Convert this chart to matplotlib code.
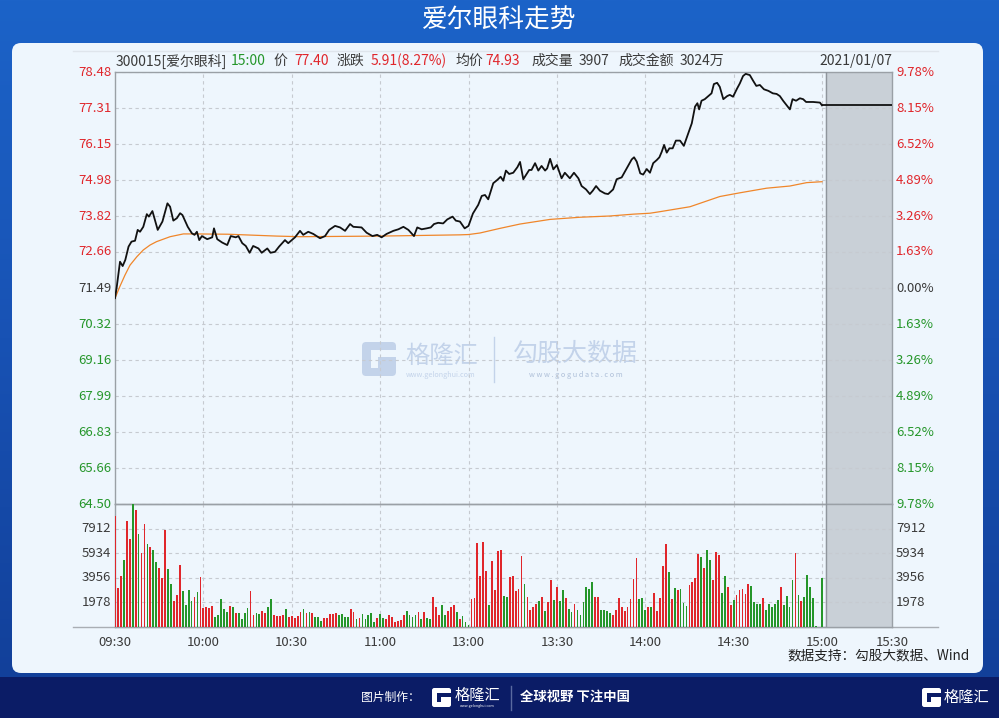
import matplotlib
matplotlib.use("Agg")
import matplotlib.pyplot as plt
import numpy as np
from matplotlib.colors import LinearSegmentedColormap
from matplotlib.patches import FancyBboxPatch, Rectangle

plt.rcParams["font.family"] = ["Noto Sans CJK SC", "DejaVu Sans"]

# ---- data ----
stock = "300015[爱尔眼科]"
trade_date = "2021/01/07"
last_time = "15:00"
prev_close = 71.49
close = 77.40
change = 5.91
change_pct = 8.27
avg_price = 74.93
last_vol = 3907
turnover = "3024万"

time_labels = ["09:30", "10:00", "10:30", "11:00", "13:00", "13:30", "14:00", "14:30", "15:00", "15:30"]
price_ticks = [78.48, 77.31, 76.15, 74.98, 73.82, 72.66, 71.49, 70.32, 69.16, 67.99, 66.83, 65.66, 64.50]
pct_labels = ["9.78%", "8.15%", "6.52%", "4.89%", "3.26%", "1.63%", "0.00%",
              "1.63%", "3.26%", "4.89%", "6.52%", "8.15%", "9.78%"]
vol_ticks = [1978, 3956, 5934, 7912]
vol_max = 9890

# minutes since 09:30 (lunch break removed) and price
price_t = [0, 0.6, 1.7, 2.6, 3.5, 4.6, 5.6, 6.8, 7.7, 8.5, 9.6, 10.8, 11.5, 12.7, 14.5, 16.1,
           17.8, 18.7, 19.8, 21.0, 22.1, 22.9, 24.7, 26.1, 27.0, 27.8, 28.6, 29.5, 31.3, 33.0,
           33.6, 34.7, 36.4, 38.1, 39.3, 41.0, 41.9, 43.2, 44.4, 45.7, 46.9, 48.7, 49.8, 51.7,
           52.8, 54.3, 55.7, 57.7, 58.8, 61.1, 62.8, 63.9, 65.6, 67.3, 69.6, 71.3, 72.7, 74.7,
           76.4, 78.1, 79.8, 80.9, 83.7, 85.4, 87.4, 89.0, 90.5, 92.2, 94.5, 96.2, 97.9, 99.6,
           101.5, 102.6, 104.1, 105.8, 107.2, 108.3, 109.7, 111.4, 112.8, 114.6, 115.7, 117.1,
           118.7, 120.0, 121.5, 123.3, 124.5, 125.6, 126.7, 128.4, 129.8, 130.9, 131.8, 132.7,
           133.8, 135.2, 136.6, 137.5, 138.6, 140.6, 141.4, 142.6, 143.7, 144.8, 146.0, 146.7,
           147.7, 148.8, 150.0, 151.6, 152.7, 154.4, 155.8, 157.3, 158.4, 159.9, 161.2, 162.2,
           163.3, 164.6, 166.3, 167.4, 169.1, 170.3, 172.0, 173.7, 175.4, 176.2, 177.1, 178.3,
           179.3, 180.5, 181.6, 182.7, 183.9, 184.8, 185.6, 186.4, 187.3, 188.2, 189.3, 190.4,
           191.8, 193.1, 194.3, 195.8, 196.9, 197.7, 198.3, 199.1, 200.2, 201.4, 202.5, 203.3,
           204.4, 205.3, 206.5, 207.8, 208.7, 209.8, 211.2, 212.1, 213.2, 214.1, 215.5, 216.6,
           217.7, 218.9, 220.3, 221.8, 223.3, 224.6, 225.7, 226.8, 228.2, 229.1, 230.0, 231.2,
           232.5, 233.6, 234.6, 237.0, 239.3, 240.0]
price = [71.16, 71.53, 72.34, 72.20, 72.40, 72.83, 72.99, 73.02, 73.37, 73.31, 73.47, 73.88, 73.80,
         73.98, 73.37, 73.64, 74.23, 74.12, 73.67, 73.75, 73.91, 73.85, 73.47, 73.26, 73.21, 73.31,
         73.04, 73.17, 73.07, 73.13, 73.42, 73.07, 72.96, 72.88, 73.17, 73.13, 73.17, 72.94, 72.85,
         72.63, 72.85, 72.77, 72.63, 72.77, 72.63, 72.66, 72.83, 73.04, 72.94, 73.13, 73.34, 73.21,
         73.31, 73.24, 73.10, 73.17, 73.37, 73.50, 73.45, 73.34, 73.56, 73.47, 73.45, 73.28, 73.17,
         73.21, 73.13, 73.24, 73.34, 73.39, 73.47, 73.37, 73.17, 73.45, 73.39, 73.42, 73.45, 73.56,
         73.60, 73.58, 73.71, 73.80, 73.67, 73.64, 73.42, 73.50, 73.90, 74.18, 74.47, 74.50, 74.36,
         74.88, 74.99, 75.09, 74.96, 75.29, 75.18, 75.22, 75.40, 75.57, 75.01, 75.31, 75.31, 75.53,
         75.29, 75.44, 75.29, 75.36, 75.67, 75.33, 75.47, 75.04, 75.22, 75.04, 75.22, 75.04, 74.79,
         74.68, 74.53, 74.64, 74.79, 74.64, 74.55, 74.53, 74.68, 75.01, 75.07, 75.36, 75.65, 75.72,
         75.58, 75.20, 75.16, 75.34, 75.22, 75.53, 75.63, 75.72, 75.90, 76.12, 75.87, 76.01, 76.01,
         76.26, 76.26, 76.09, 76.41, 76.82, 77.36, 77.47, 77.27, 77.55, 77.60, 77.70, 77.79, 78.09,
         78.13, 78.00, 77.60, 77.70, 77.74, 77.68, 77.95, 78.11, 78.35, 78.42, 78.38, 78.20, 78.03,
         78.06, 77.92, 77.87, 77.79, 77.77, 77.70, 77.55, 77.38, 77.27, 77.60, 77.55, 77.63, 77.60,
         77.51, 77.51, 77.49, 77.40]

avg_t = [0, 1.7, 3.4, 5.1, 7.4, 9.6, 11.9, 14.1, 18.7, 23.2, 27.0, 38.4, 54.9, 62.8, 90.0, 117.0,
         120.0, 123.9, 130.7, 137.5, 147.7, 157.9, 168.0, 176.0, 181.6, 185.0, 195.2, 205.3,
         212.1, 221.2, 229.1, 234.8, 240.0]
avg = [71.16, 71.55, 71.91, 72.23, 72.50, 72.72, 72.88, 72.99, 73.15, 73.24, 73.24, 73.23, 73.17,
       73.15, 73.17, 73.21, 73.22, 73.27, 73.42, 73.56, 73.71, 73.78, 73.82, 73.88, 73.91, 73.96,
       74.12, 74.45, 74.57, 74.72, 74.79, 74.90, 74.93]

# one bar per minute, 09:30 .. 15:00
vol = [8924, 3160, 4100, 5387, 8522, 7050, 9890, 9407, 7477, 5923, 8281, 6673, 6405, 6190, 5253,
       4716, 3913, 7799, 4637, 3430, 2117, 2573, 4958, 2921, 1769, 2975, 2117, 2385, 2787, 3993,
       1528, 1635, 1528, 1688, 830, 965, 2224, 1420, 1206, 1688, 1581, 1152, 1152, 616, 1152,
       1501, 2894, 938, 1099, 1018, 1286, 1099, 1635, 2278, 965, 884, 884, 965, 1420, 830,
       884, 697, 884, 1233, 1474, 1152, 1206, 1152, 830, 777, 509, 723, 723, 1045, 1045,
       1099, 938, 1045, 830, 777, 1447, 1206, 616, 750, 1045, 670, 938, 1099, 402, 697,
       1018, 723, 616, 965, 830, 429, 456, 563, 965, 1286, 938, 777, 965, 1206, 670,
       1206, 723, 670, 2385, 1581, 938, 1769, 938, 1313, 1635, 1742, 1233, 670, 884, 429,
       160, 2278, 2358, 6727, 4100, 6861, 4529, 1769, 5334, 2975, 6137, 6190, 2492, 2385, 3993,
       4100, 2921, 3028, 5708, 3457, 2385, 1367, 1581, 1849, 2090, 2385, 1286, 1983, 3752, 2144,
       3189, 2117, 2975, 2304, 1420, 1233, 1822, 1367, 965, 2010, 3216, 3028, 3618, 2438, 2438,
       1367, 1367, 1313, 1099, 965, 1367, 2304, 1635, 1313, 1635, 2251, 3832, 5548, 2224, 2331,
       1367, 1581, 1581, 2760, 1286, 2304, 4904, 6673, 4395, 2278, 3109, 2975, 3028, 1903, 1688,
       3350, 3645, 3966, 5869, 5655, 4716, 6190, 5387, 3806, 6029, 5789, 2706, 4127, 3216, 1769,
       2144, 2546, 2975, 3082, 2652, 3430, 3296, 2036, 1849, 1849, 2304, 1367, 1849, 1581, 1849,
       2144, 3216, 1769, 2492, 1635, 3779, 5923, 2546, 2090, 2385, 4154, 3189, 2304, 80, 0,
       3907]
# bar colour, r = up minute, g = down minute (10 per group)
vol_dir = "".join([
    "rrrgrrgrgr", "rgrggrrrgg", "rrrggggrgr", "rrrrgggggr", "grggggrrgg",
    "rrggrrrrgr", "rrrrgrgrgg", "grrrrrgggg", "rrgrgggggr", "ggrrrrrrrg",
    "gggrgrggrr", "rggrrrgrgg", "grrrrrrgrr", "rrggrrrrrg", "rrrrgrgrrg",
    "rggrggrggg", "gggrrggggr", "rrrrrrrrgg", "grgrrrrrgr", "grgggrrrrg",
    "rggrrrggrr", "grrrrrgggg", "rgggggrggg", "grgrgggggg", "g",
])

RED = "#e0262b"
GREEN = "#25962a"
DARK = "#3a3a3a"
GRID = "#c6cad0"
PANEL = "#eef6fd"

W, H = 999, 718
L, R, TOP, MID, BOT = 115, 892, 72, 504, 627
X_CLOSE = 822                        # pixel of 15:00
XMAX = 240 * (R - L) / (X_CLOSE - L)
X_SHADE = 240 * (826 - L) / (X_CLOSE - L)

fig = plt.figure(figsize=(W / 100, H / 100), dpi=100)

# background, panel, decorations in pixel coordinates
bg = fig.add_axes([0, 0, 1, 1])
bg.set_xlim(0, W)
bg.set_ylim(H, 0)
bg.axis("off")
cmap = LinearSegmentedColormap.from_list("bgblue", ["#1c63c8", "#1852b4", "#12409a"])
bg.imshow(np.linspace(0, 1, 256)[:, None], extent=[0, W, 677, 0], cmap=cmap, aspect="auto", zorder=0)
bg.add_patch(Rectangle((0, 677), W, H - 677, fc="#0b1c66", ec="none", zorder=0))
bg.add_patch(FancyBboxPatch((12, 43), 971, 630, boxstyle="round,pad=0,rounding_size=9",
                            fc=PANEL, ec="none", zorder=1))
bg.text(W / 2, 21, "爱尔眼科走势", color="white", fontsize=18.5, ha="center", va="center", zorder=2)

bg.plot([73, 938], [51, 51], color="#dfe5ec", lw=1, zorder=2)
bg.plot([73, 938], [BOT, BOT], color="#a9aeb4", lw=1, zorder=2)


def g_logo(x, y, s, fc, hole):
    bg.add_patch(FancyBboxPatch((x, y), s, s, boxstyle="round,pad=0,rounding_size=%.1f" % (s * 0.12),
                                fc=fc, ec="none", zorder=2))
    bg.add_patch(Rectangle((x + 0.27 * s, y + 0.24 * s), 0.75 * s, 0.21 * s, fc=hole, ec="none", zorder=2))
    bg.add_patch(Rectangle((x + 0.27 * s, y + 0.45 * s), 0.21 * s, 0.3 * s, fc=hole, ec="none", zorder=2))


# watermark
WM = "#c3d3ea"
g_logo(362, 342, 34, WM, PANEL)
bg.text(405, 356, "格隆汇", color=WM, fontsize=17.5, ha="left", va="center", zorder=2)
bg.text(441, 375, "www.gelonghui.com", color=WM, fontsize=5.2, ha="center", va="center", zorder=2)
bg.plot([494, 494], [337, 382], color=WM, lw=1, zorder=2)
bg.text(513, 354, "勾股大数据", color=WM, fontsize=18, ha="left", va="center", zorder=2)
bg.text(576, 375, "w w w . g o g u d a t a . c o m", color="#aebfd8", fontsize=5.3,
        ha="center", va="center", zorder=2)

# header row
header = [
    (116, stock, DARK),
    (231, last_time, GREEN),
    (273, "价", DARK),
    (294, "%.2f" % close, RED),
    (337, "涨跌", DARK),
    (371, "%.2f(%.2f%%)" % (change, change_pct), RED),
    (455, "均价", DARK),
    (485, "%.2f" % avg_price, RED),
    (531, "成交量", DARK),
    (579, str(last_vol), DARK),
    (618, "成交金额", DARK),
    (680, turnover, DARK),
]
for x, s, c in header:
    bg.text(x, 61, s, color=c, fontsize=10, ha="left", va="center", zorder=3)
bg.text(R, 61, trade_date, color=DARK, fontsize=10, ha="right", va="center", zorder=3)

bg.text(970, 655, "数据支持：勾股大数据、Wind", color="#222222", fontsize=9.8,
        ha="right", va="center", zorder=3)

# footer
bg.text(361, 697, "图片制作：", color="white", fontsize=8.5, ha="left", va="center", zorder=3)
g_logo(432, 688, 19, "white", "#0b1c66")
bg.text(455, 695, "格隆汇", color="white", fontsize=11, ha="left", va="center", zorder=3)
bg.text(477, 706, "www.gelonghui.com", color="white", fontsize=2.6, ha="center", va="center", zorder=3)
bg.plot([511, 511], [686, 710], color="#5a6aa0", lw=1, zorder=3)
bg.text(520, 697, "全球视野 下注中国", color="white", fontsize=9.6, weight="bold",
        ha="left", va="center", zorder=3)
g_logo(922, 688, 19, "white", "#0b1c66")
bg.text(944, 697, "格隆汇", color="white", fontsize=11, ha="left", va="center", zorder=3)

# price panel
ax = fig.add_axes([L / W, 1 - MID / H, (R - L) / W, (MID - TOP) / H])
axv = fig.add_axes([L / W, 1 - BOT / H, (R - L) / W, (BOT - MID) / H])
for a in (ax, axv):
    a.set_facecolor("none")
    a.set_xlim(0, XMAX)
    a.set_xticks(range(30, 241, 30))
    a.grid(True, color=GRID, lw=0.8, ls=(0, (3, 3)))
    a.tick_params(length=0, labelleft=False, labelbottom=False)
    a.axvspan(X_SHADE, XMAX, color="#c9d0d7", zorder=0.5)
    a.axvline(X_SHADE, color="#8f959c", lw=1, zorder=3)
    for sp in a.spines.values():
        sp.set_color("#9aa0a6")
        sp.set_linewidth(1)

ax.set_ylim(price_ticks[-1], price_ticks[0])
ax.set_yticks(price_ticks)
ax.plot(avg_t, avg, color="#f0862a", lw=0.9, zorder=4)
ax.plot(price_t, price, color="#111111", lw=1.3, zorder=5)
ax.hlines(price[-1], price_t[-1], XMAX, color="#111111", lw=1.3, zorder=5)

ytr = ax.get_yaxis_transform()
for p, lab in zip(price_ticks, pct_labels):
    if p > prev_close + 0.001:
        c = RED
    elif p < prev_close - 0.001:
        c = GREEN
    else:
        c = DARK
    ax.text(-0.005, p, "%.2f" % p, color=c, fontsize=9.5, ha="right", va="center", transform=ytr)
    ax.text(1.005, p, lab, color=c, fontsize=9.5, ha="left", va="center", transform=ytr)

# volume panel
axv.set_ylim(0, vol_max)
axv.set_yticks(vol_ticks)
colors = [RED if d == "r" else GREEN for d in vol_dir]
axv.bar(range(len(vol)), vol, width=0.6, color=colors, zorder=4)
vtr = axv.get_yaxis_transform()
for v in vol_ticks:
    axv.text(-0.005, v, str(v), color=DARK, fontsize=9.5, ha="right", va="center", transform=vtr)
    axv.text(1.005, v, str(v), color=DARK, fontsize=9.5, ha="left", va="center", transform=vtr)

xtr = axv.get_xaxis_transform()
for pos, lab in zip(list(range(0, 241, 30)) + [XMAX], time_labels):
    axv.text(pos, -0.075, lab, color=DARK, fontsize=9.5, ha="center", va="top", transform=xtr)

fig.savefig("out.png", dpi=100)
